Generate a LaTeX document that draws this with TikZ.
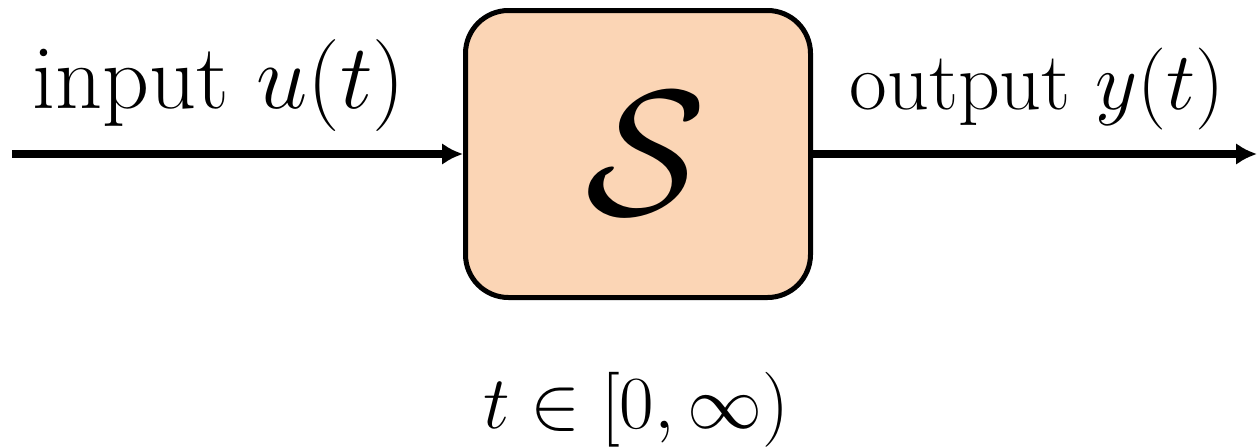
\RequirePackage{fix-cm}
\documentclass[tikz,border=0pt]{standalone}
\usetikzlibrary{arrows.meta}
\definecolor{peach}{HTML}{FBD5B5}
\tikzset{
  sysbox/.style={draw=black, fill=peach, line width=5pt, rounded corners=43pt,
    minimum width=345pt, minimum height=287pt, inner sep=0pt},
  sig/.style={line width=7.5pt, -{Latex[length=21pt,width=22pt]}},
  lblin/.style={inner sep=0pt, font=\fontsize{92}{110}\selectfont},
  lblout/.style={inner sep=0pt, font=\fontsize{82}{98}\selectfont},
  lblsmall/.style={inner sep=0pt, font=\fontsize{75}{90}\selectfont}
}
\begin{document}
\begin{tikzpicture}[x=1pt,y=-1pt]
\useasboundingbox (0,0) rectangle (1257,447);
\node[sysbox] (box) at (638,154) {};
\node at (646,154) (S) {\fontsize{178}{200}\selectfont$\mathcal{S}$};
\coordinate (in) at (12,154);
\coordinate (out) at (1257,154);
\draw[sig] (in) -- (box.west);
\draw[sig] (box.east) -- (out);
\node[lblin, anchor=base west] (inl) at (32,108) {input $u(t)$};
\node[lblout, anchor=base east] (outl) at (1225,109) {output $y(t)$};
\node[lblsmall, anchor=base] (tl) at (636,428) {$t\in[0,\infty)$};
\end{tikzpicture}
\end{document}
